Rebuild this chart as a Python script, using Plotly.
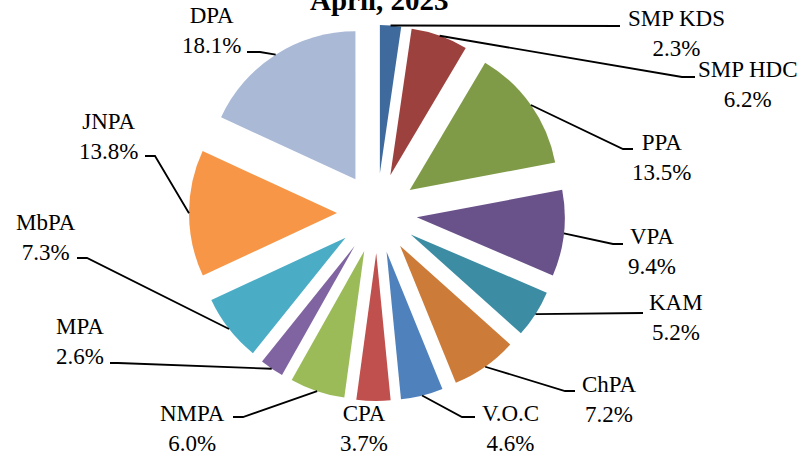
import math
import plotly.graph_objects as go

# ---- data ----
ports = ["SMP KDS", "SMP HDC", "PPA", "VPA", "KAM", "ChPA", "V.O.C",
         "CPA", "NMPA", "MPA", "MbPA", "JNPA", "DPA"]
shares = [2.3, 6.2, 13.5, 9.4, 5.2, 7.2, 4.6, 3.7, 6.0, 2.6, 7.3, 13.8, 18.1]
title_text = "April, 2023"

# ---- styles ----
colors = ["#3E6A9E", "#9D413E", "#7F9B48", "#69518A", "#3C8DA4", "#CC7B38",
          "#4F81BD", "#C0504D", "#9BBB59", "#8064A2", "#4BACC6", "#F79646",
          "#AAB9D6"]

W, H = 809, 457
ML, MR, MT, MB = 0, 55, 25, 56
PULL = 0.27
FONT = "Liberation Serif"

# label block centres (pixels) and leader-line bends (pixels)
label_pos = {
    "SMP KDS": (676, 33), "SMP HDC": (748, 85), "PPA": (661, 157),
    "VPA": (652, 251), "KAM": (676, 317), "ChPA": (609, 399),
    "V.O.C": (510, 428), "CPA": (364, 428), "NMPA": (192, 428),
    "MPA": (80, 341), "MbPA": (46, 237), "JNPA": (108, 136), "DPA": (211, 30),
}
leader_bends = {
    "SMP KDS": [(620, 26)],
    "SMP HDC": [(682, 77), (695, 77)],
    "PPA": [(623, 149), (633, 149)],
    "VPA": [(613, 244), (623, 244)],
    "KAM": [(643, 313)],
    "ChPA": [(565, 391), (575, 391)],
    "V.O.C": [(462, 417), (475, 417)],
    "CPA": None,
    "NMPA": [(243, 417), (233, 417)],
    "MPA": [(118, 363), (110, 363)],
    "MbPA": [(87, 258), (77, 258)],
    "JNPA": [(155, 156), (145, 156)],
    "DPA": [(260, 52), (247, 52)],
}

pw, ph = W - ML - MR, H - MT - MB
cx, cy = ML + pw / 2, MT + ph / 2
r = min(pw, ph) / 2 / (1 + PULL)
reach = r * (1 + PULL)


def px(x):
    return (x - ML) / pw


def py(y):
    return 1 - (y - MT) / ph


fig = go.Figure(go.Pie(
    labels=ports, values=shares, sort=False, direction="clockwise",
    rotation=0, pull=[PULL] * len(ports), textinfo="none",
    hoverinfo="label+percent",
    marker=dict(colors=colors, line=dict(width=0)),
    showlegend=False,
))

total = sum(shares)
cum = 0.0
shapes = []
annotations = []
for name, v in zip(ports, shares):
    mid = (cum + v / 2) / total * 2 * math.pi
    cum += v
    sx = cx + reach * math.sin(mid)
    sy = cy - reach * math.cos(mid)
    bends = leader_bends[name]
    if bends:
        pts = [(sx, sy)] + bends
        path = "M " + " L ".join(f"{px(a):.5f},{py(b):.5f}" for a, b in pts)
        shapes.append(dict(type="path", path=path, xref="paper", yref="paper",
                           line=dict(color="black", width=1.8)))
    lx, ly = label_pos[name]
    annotations.append(dict(
        text=f"{name}<br>{v:.1f}%", x=px(lx), y=py(ly), xref="paper",
        yref="paper", xanchor="center", yanchor="middle", showarrow=False,
        align="center", font=dict(family=FONT, size=23, color="black")))

annotations.append(dict(
    text=f"<b>{title_text}</b>", x=px(379), y=py(0), xref="paper",
    yref="paper", xanchor="center", yanchor="middle", showarrow=False,
    font=dict(family=FONT, size=29, color="black")))

fig.update_layout(
    width=W, height=H, paper_bgcolor="white", plot_bgcolor="white",
    margin=dict(l=ML, r=MR, t=MT, b=MB, autoexpand=False),
    shapes=shapes, annotations=annotations,
    font=dict(family=FONT),
)

fig.write_html(
    "out.html",
    config={"displayModeBar": False},
    post_script="document.body.style.margin='0px';"
                "document.body.style.overflow='hidden';",
)
